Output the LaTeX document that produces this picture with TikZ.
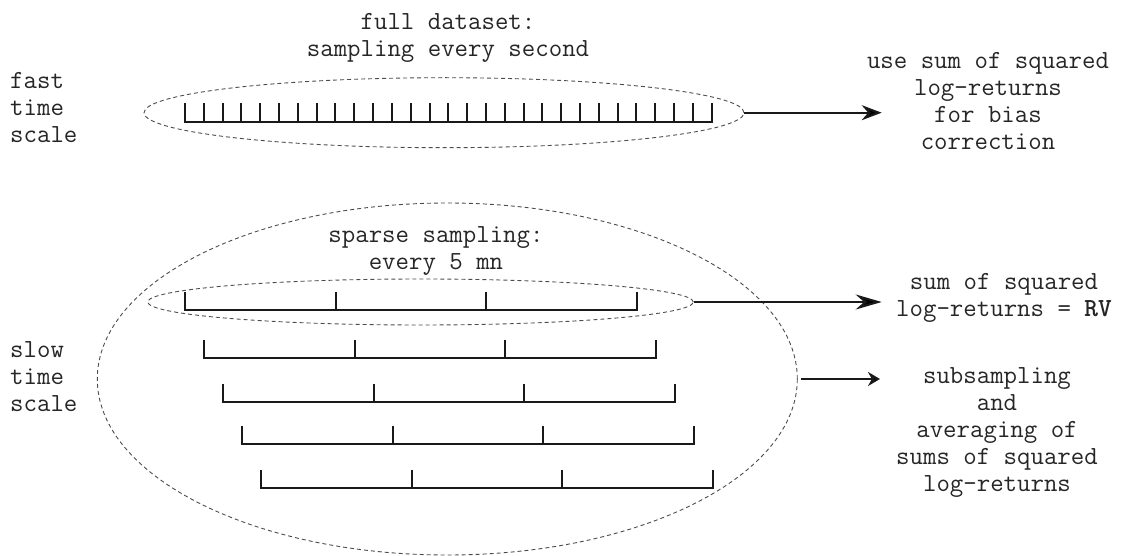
\documentclass[tikz,border=0pt]{standalone}
\usetikzlibrary{arrows.meta, shapes.geometric, positioning}

\begin{document}
\begin{tikzpicture}[x=1pt, y=-1pt,
	txt/.style={font=\ttfamily\fontsize{26.1pt}{27pt}\selectfont, text=black!85, align=center, inner sep=0pt},
	sample/.style={ellipse, draw=black!70, line width=0.9pt, dash pattern=on 4pt off 3pt, inner sep=0pt},
	ruler/.style={draw=black!90, line width=2pt}]
	\useasboundingbox (0,0) rectangle (1124,556);

	\node (fast) [txt, align=left, anchor=west] at (10,108) {fast\\time\\scale};
	\node (slow) [txt, align=left, anchor=west] at (10,376.5) {slow\\time\\scale};
	\node (fulltxt) [txt] at (448,37.5) {full dataset:\\sampling every second};
	\node (sparsetxt) [txt] at (436,251.5) {sparse sampling:\\every 5 mn};
	\node (bias) [txt] at (988,101.5) {use sum of squared\\log-returns\\for bias\\correction};
	\node (rv) [txt] at (1004,298) {sum of squared\\log-returns = \textbf{RV}};
	\node (avg) [txt] at (997,432.5) {subsampling\\and\\averaging of\\sums of squared\\log-returns};

	\node (full) [sample, minimum width=600pt, minimum height=70pt] at (444,112.7) {};
	\node (sparse) [sample, minimum width=545.6pt, minimum height=46pt] at (420.5,302) {};
	\node (all) [sample, minimum width=700pt, minimum height=352pt] at (447.3,379) {};

	% one tick per second
	\draw [ruler] (185,103.3) |- (711.7,121.7) -- ++(0,-18.4)
		\foreach \i in {1,...,27} {({185+\i*18.81},121.7) -- ++(0,-18.4)};

	% one tick per 5 mn, shifted grids
	\foreach \k/\y in {0/310.3, 1/358.3, 2/402.3, 3/444, 4/488.3}
		\draw [ruler] ({185+19*\k},\y-18.4) |- ({636.5+19*\k},\y) -- ++(0,-18.4)
			({335.5+19*\k},\y) -- ++(0,-18.4) ({486+19*\k},\y) -- ++(0,-18.4);

	\coordinate (t1) at (881.7,112.7);
	\coordinate (t2) at (881.7,302);
	\coordinate (t3) at (880,379);

	\path [draw=black!90, line width=2pt]
	(full.east) edge [-{Stealth[length=20pt, width=15pt]}] (t1)
	(sparse.east) edge [-{Stealth[length=26pt, width=15pt]}] (t2)
	(all.east) edge [-{Stealth[length=12pt, width=14pt]}, shorten <=3pt] (t3)
	;
\end{tikzpicture}
\end{document}
